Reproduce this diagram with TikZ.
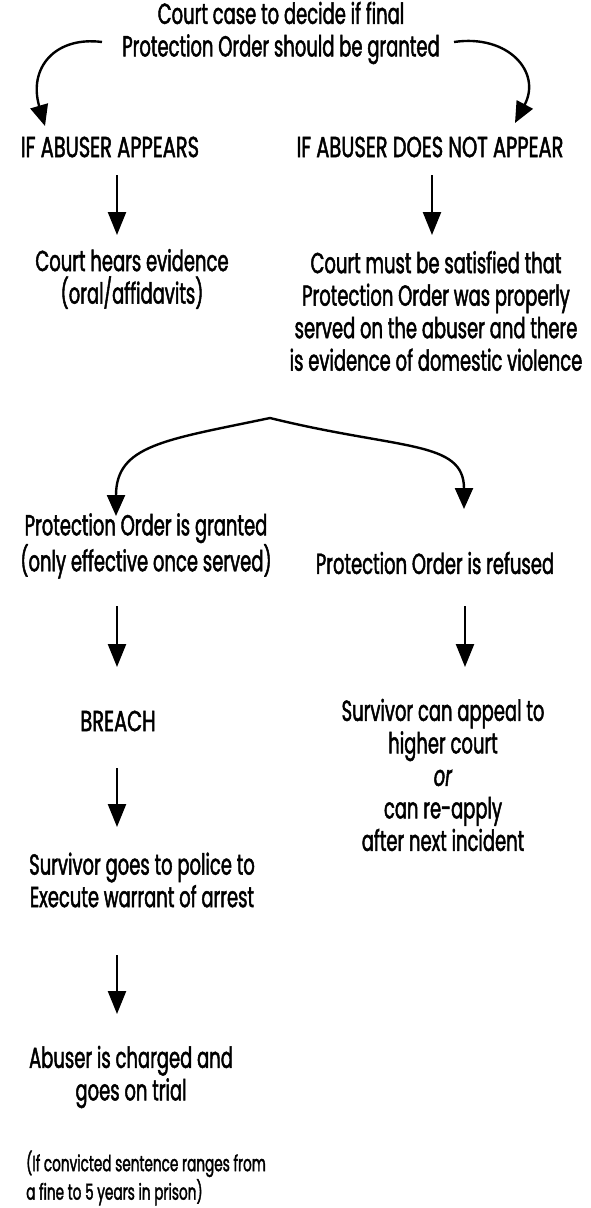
\documentclass[tikz,border=0pt]{standalone}
\usepackage{fontspec}
\setmainfont{Poppins}[FakeStretch=0.62,FakeBold=1.6]
\newfontfamily\capsfont{Poppins}[FakeStretch=0.67,FakeBold=1.6]
\usetikzlibrary{arrows.meta}
\begin{document}
\begin{tikzpicture}[x=1pt,y=-1pt,
  txt/.style={font=\fontsize{29}{32.5}\selectfont, align=center, inner sep=0pt},
  capstxt/.style={font=\capsfont\fontsize{29}{32.5}\selectfont, align=center, inner sep=0pt},
  smalltxt/.style={font=\fontsize{22}{28.5}\selectfont, align=left, inner sep=0pt, anchor=west},
  arr/.style={line width=2.4pt, -{Triangle[width=18pt,length=23pt]}},
  carr/.style={line width=2.4pt, -{Triangle[width=18pt,length=21pt]}}]
\useasboundingbox[fill=white] (0,0) rectangle (590,1208);

\node[txt] (t) at (281,33) {Court case to decide if final\\Protection Order should be granted};
\node[capstxt] (a1) at (110,147) {IF ABUSER APPEARS};
\node[capstxt] (a2) at (430,147) {IF ABUSER DOES NOT APPEAR};
\node[txt] (b1) at (132,279) {Court hears evidence\\(oral/affidavits)};
\node[txt] (b2) at (436,311) {Court must be satisfied that\\Protection Order was properly\\served on the abuser and there\\is evidence of domestic violence};
\node[txt] (c1) at (146,546) {Protection Order is granted\\(only effective once served)};
\node[txt] (c2) at (435,563) {Protection Order is refused};
\node[capstxt] (d1) at (118,721) {BREACH};
\node[txt] (d2) at (443,775) {Survivor can appeal to\\higher court\\\textit{or}\\can re-apply\\after next incident};
\node[txt] (e1) at (142,880) {Survivor goes to police to\\Execute warrant of arrest};
\node[txt] (f1) at (131,1077) {Abuser is charged and\\goes on trial};
\node[smalltxt] (g1) at (26,1178) {(If convicted sentence ranges from\\a fine to 5 years in prison)};

% top curved arrows
\coordinate (ls) at (102,42);
\coordinate (lt) at (45,126);
\coordinate (rs) at (454,42);
\coordinate (rt) at (515,123);
\draw[carr] (ls) .. controls (55,36) and (28,68) .. (lt);
\draw[carr] (rs) .. controls (508,34) and (542,72) .. (rt);

% straight arrows
\coordinate (a1s) at (117,175); \coordinate (a1e) at (117,235);
\coordinate (a2s) at (432,175); \coordinate (a2e) at (432,235);
\draw[arr] (a1s) -- (a1e);
\draw[arr] (a2s) -- (a2e);

% brace
\coordinate (apex) at (270,418);
\coordinate (bl) at (116,516);
\coordinate (br) at (464,509);
\draw[carr] (apex) .. controls (165,440) and (116,445) .. (bl);
\draw[carr] (apex) .. controls (400,450) and (464,440) .. (br);

\coordinate (c1s) at (117,606); \coordinate (c1e) at (117,667);
\coordinate (c2s) at (465,606); \coordinate (c2e) at (465,667);
\draw[arr] (c1s) -- (c1e);
\draw[arr] (c2s) -- (c2e);

\coordinate (d1s) at (117,768); \coordinate (d1e) at (117,827);
\draw[arr] (d1s) -- (d1e);

\coordinate (e1s) at (117,955); \coordinate (e1e) at (117,1014);
\draw[arr] (e1s) -- (e1e);
\end{tikzpicture}
\end{document}
